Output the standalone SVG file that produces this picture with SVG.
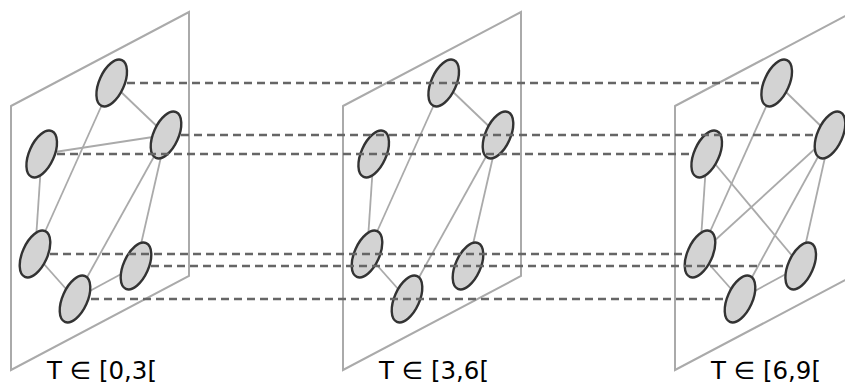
<svg xmlns="http://www.w3.org/2000/svg" width="845" height="385" viewBox="0 0 845 385">
<style>
.plane{fill:#fff;stroke:#aaa;stroke-width:2}
.edge{stroke:#aaa;stroke-width:1.8;fill:none}
.node{fill:#d3d3d3;stroke:#333;stroke-width:2.4}
.link{stroke:#666;stroke-width:2.3;stroke-dasharray:8,5;fill:none}
.lbl{font-family:"DejaVu Sans",sans-serif;font-size:24.5px;fill:#000;text-anchor:middle}
</style>
<defs>
<ellipse id="n" cx="0" cy="0" rx="12.5" ry="25" transform="rotate(24)"/>
</defs>
<g id="plane1">
<polygon class="plane" points="11,106 189,12 189,276 11,370"/>
<g class="edge">
<line x1="111.7" y1="83" x2="166" y2="135"/>
<line x1="111.7" y1="83" x2="35" y2="254"/>
<line x1="166" y1="135" x2="41.7" y2="154"/>
<line x1="166" y1="135" x2="75" y2="299"/>
<line x1="166" y1="135" x2="136" y2="266"/>
<line x1="41.7" y1="154" x2="35" y2="254"/>
<line x1="35" y1="254" x2="75" y2="299"/>
<line x1="75" y1="299" x2="136" y2="266"/>
</g>
<g id="p1a" class="node"><use href="#n" x="111.7" y="83"/></g>
<g id="p1b" class="node"><use href="#n" x="166" y="135"/></g>
<g id="p1c" class="node"><use href="#n" x="41.7" y="154"/></g>
<g id="p1d" class="node"><use href="#n" x="35" y="254"/></g>
<g id="p1e" class="node"><use href="#n" x="136" y="266"/></g>
<g id="p1f" class="node"><use href="#n" x="75" y="299"/></g>
<text class="lbl" x="102" y="378.5">T ∈ [0,3[</text>
</g>
<g id="plane2">
<polygon class="plane" points="343,106 521,12 521,276 343,370"/>
<g class="edge">
<line x1="443.7" y1="83" x2="498" y2="135"/>
<line x1="443.7" y1="83" x2="367" y2="254"/>
<line x1="498" y1="135" x2="407" y2="299"/>
<line x1="498" y1="135" x2="468" y2="266"/>
<line x1="373.7" y1="154" x2="367" y2="254"/>
<line x1="367" y1="254" x2="407" y2="299"/>
</g>
<g id="p2a" class="node"><use href="#n" x="443.7" y="83"/></g>
<g id="p2b" class="node"><use href="#n" x="498" y="135"/></g>
<g id="p2c" class="node"><use href="#n" x="373.7" y="154"/></g>
<g id="p2d" class="node"><use href="#n" x="367" y="254"/></g>
<g id="p2e" class="node"><use href="#n" x="468" y="266"/></g>
<g id="p2f" class="node"><use href="#n" x="407" y="299"/></g>
<text class="lbl" x="434" y="378.5">T ∈ [3,6[</text>
</g>
<g id="plane3">
<polygon class="plane" points="675,106 853,12 853,276 675,370"/>
<g class="edge">
<line x1="776.7" y1="83" x2="830" y2="135"/>
<line x1="776.7" y1="83" x2="700" y2="254"/>
<line x1="830" y1="135" x2="700" y2="254"/>
<line x1="830" y1="135" x2="740" y2="299"/>
<line x1="830" y1="135" x2="800.7" y2="266"/>
<line x1="706.7" y1="154" x2="700" y2="254"/>
<line x1="706.7" y1="154" x2="800.7" y2="266"/>
<line x1="700" y1="254" x2="740" y2="299"/>
<line x1="740" y1="299" x2="800.7" y2="266"/>
</g>
<g id="p3a" class="node"><use href="#n" x="776.7" y="83"/></g>
<g id="p3b" class="node"><use href="#n" x="830" y="135"/></g>
<g id="p3c" class="node"><use href="#n" x="706.7" y="154"/></g>
<g id="p3d" class="node"><use href="#n" x="700" y="254"/></g>
<g id="p3e" class="node"><use href="#n" x="800.7" y="266"/></g>
<g id="p3f" class="node"><use href="#n" x="740" y="299"/></g>
<text class="lbl" x="766" y="378.5">T ∈ [6,9[</text>
</g>
<g id="connectors" class="link">
<line x1="127" y1="83" x2="762" y2="83"/>
<line x1="181" y1="135" x2="815" y2="135"/>
<line x1="57" y1="154" x2="692" y2="154"/>
<line x1="50" y1="254" x2="687" y2="254"/>
<line x1="151" y1="266" x2="786" y2="266"/>
<line x1="91" y1="299" x2="725" y2="299"/>
</g>
</svg>
